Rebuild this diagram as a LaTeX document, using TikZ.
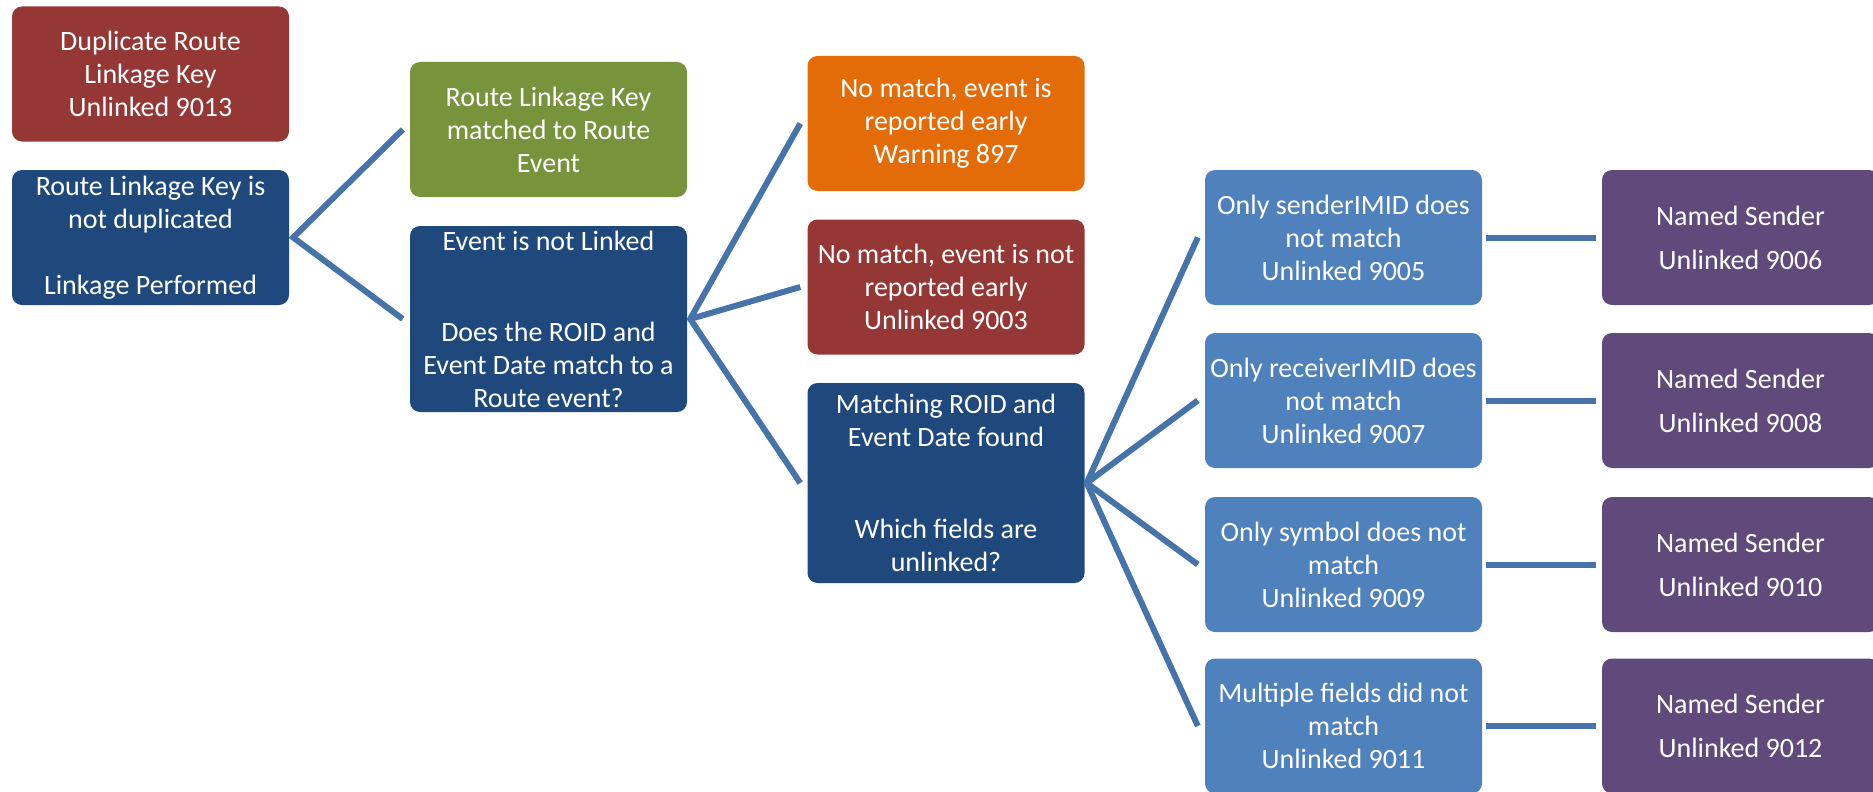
\documentclass[tikz,border=0pt]{standalone}
\usepackage{fontspec}
\setmainfont{Carlito}
\definecolor{dupred}{HTML}{953735}
\definecolor{keyblue}{HTML}{1F497D}
\definecolor{keygreen}{HTML}{77933C}
\definecolor{warnorange}{HTML}{E36C09}
\definecolor{fieldblue}{HTML}{4F81BD}
\definecolor{senderpurple}{HTML}{604A7B}
\definecolor{linkline}{RGB}{70,115,170}
\tikzset{
	box/.style={rounded corners=10pt, minimum width=277pt, minimum height=135pt, inner sep=0pt,
		align=center, text=white, font=\fontsize{28}{33}\selectfont},
	link/.style={line width=6pt, color=linkline},
}

\begin{document}
\begin{tikzpicture}[x=1pt, y=-1pt]
		%%%%% START %%%%%
		\useasboundingbox (0, 0) rectangle (1873, 792);
		\clip (0, 0) rectangle (1873, 792);
		
		\node[box, fill=dupred] (dupkey) at (150.5, 74) {Duplicate Route\\Linkage Key\\Unlinked 9013};
		\node[box, fill=keyblue] (notdup) at (150.5, 237.5) {Route Linkage Key is\\not duplicated\\[33pt]Linkage Performed};
		
		\node[box, fill=keygreen] (matched) at (548.5, 129.5) {Route Linkage Key\\matched to Route\\Event};
		\node[box, fill=keyblue, minimum height=186pt] (notlinked) at (548.5, 319) {Event is not Linked\\[58pt]Does the ROID and\\Event Date match to a\\Route event?};
		
		\node[box, fill=warnorange] (early) at (946, 123.5) {No match, event is\\reported early\\Warning 897};
		\node[box, fill=dupred] (notearly) at (946, 287) {No match, event is not\\reported early\\Unlinked 9003};
		\node[box, fill=keyblue, minimum height=200pt] (roidfound) at (946, 483) {Matching ROID and\\Event Date found\\[59pt]Which fields are\\unlinked?};
		
		\node[box, fill=fieldblue] (sender) at (1343.5, 237.5) {Only senderIMID does\\not match\\Unlinked 9005};
		\node[box, fill=fieldblue] (receiver) at (1343.5, 400.5) {Only receiverIMID does\\not match\\Unlinked 9007};
		\node[box, fill=fieldblue] (symbol) at (1343.5, 564.5) {Only symbol does not\\match\\Unlinked 9009};
		\node[box, fill=fieldblue] (multiple) at (1343.5, 726) {Multiple fields did not\\match\\Unlinked 9011};
		
		\node[box, fill=senderpurple] (named1) at (1740.5, 237.5) {Named Sender\\[11pt]Unlinked 9006};
		\node[box, fill=senderpurple] (named2) at (1740.5, 400.5) {Named Sender\\[11pt]Unlinked 9008};
		\node[box, fill=senderpurple] (named3) at (1740.5, 564.5) {Named Sender\\[11pt]Unlinked 9010};
		\node[box, fill=senderpurple] (named4) at (1740.5, 726) {Named Sender\\[11pt]Unlinked 9012};
		
		\draw[link] ([xshift=-7pt]matched.west) -- ([xshift=4pt]notdup.east) -- ([xshift=-7pt]notlinked.west);
		
		\draw[link] ([xshift=-7pt]early.west) -- ([xshift=3pt]notlinked.east) -- ([xshift=-7pt]roidfound.west);
		\draw[link] ([xshift=3pt]notlinked.east) -- ([xshift=-7pt]notearly.west);
		
		\draw[link] ([xshift=-7pt]sender.west) -- ([xshift=2pt]roidfound.east) -- ([xshift=-7pt]multiple.west);
		\draw[link] ([xshift=2pt]roidfound.east) -- ([xshift=-7pt]receiver.west);
		\draw[link] ([xshift=2pt]roidfound.east) -- ([xshift=-7pt]symbol.west);
		
		\draw[link] ([xshift=4pt]sender.east) -- ([xshift=-6pt]named1.west);
		\draw[link] ([xshift=4pt]receiver.east) -- ([xshift=-6pt]named2.west);
		\draw[link] ([xshift=4pt]symbol.east) -- ([xshift=-6pt]named3.west);
		\draw[link] ([xshift=4pt]multiple.east) -- ([xshift=-6pt]named4.west);
		
		%%%%% END %%%%%
	\end{tikzpicture}
\end{document}
